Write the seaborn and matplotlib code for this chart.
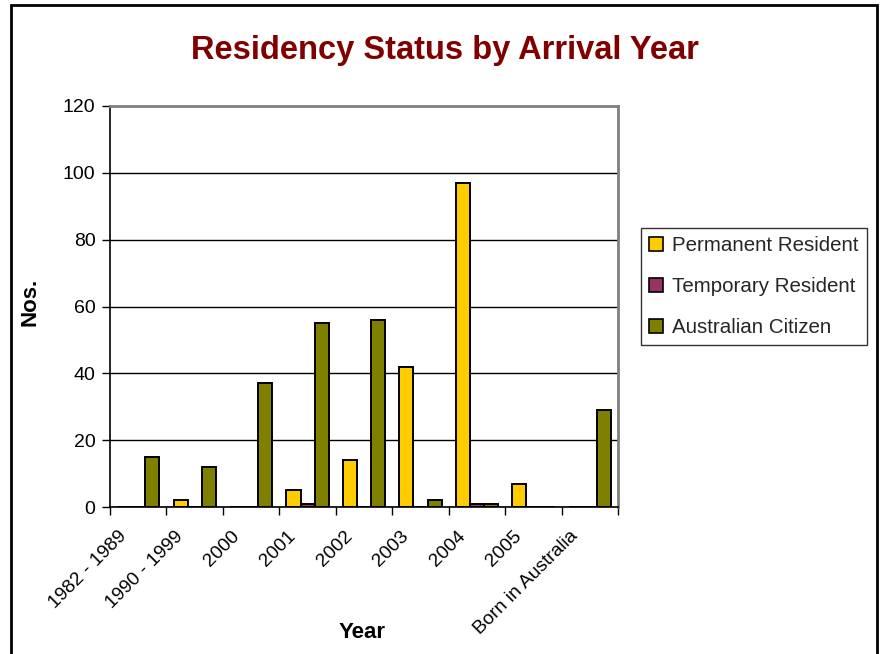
import matplotlib
matplotlib.use("Agg")
import matplotlib.pyplot as plt
import seaborn as sns
import pandas as pd
from matplotlib.patches import Rectangle

categories = ["1982 - 1989", "1990 - 1999", "2000", "2001", "2002",
              "2003", "2004", "2005", "Born in Australia"]
series_names = ["Permanent Resident", "Temporary Resident", "Australian Citizen"]
permanent = [0, 2, 0, 5, 14, 42, 97, 7, 0]
temporary = [0, 0, 0, 1, 0, 0, 1, 0, 0]
citizen = [15, 12, 37, 55, 56, 2, 1, 0, 29]
y_ticks = [0, 20, 40, 60, 80, 100, 120]

colors = ["#FFCC00", "#993366", "#808000"]

df = pd.DataFrame({
    "Year": categories * 3,
    "Status": [series_names[0]] * 9 + [series_names[1]] * 9 + [series_names[2]] * 9,
    "Nos.": permanent + temporary + citizen,
})

sns.set_theme(style="white")
plt.rcParams["font.family"] = ["Liberation Sans", "DejaVu Sans"]

fig = plt.figure(figsize=(8.8, 6.54), dpi=100)
ax = fig.add_axes([110 / 880, 1 - 507 / 654, (618 - 110) / 880, (507 - 106) / 654])

sns.barplot(data=df, x="Year", y="Nos.", hue="Status", order=categories,
            hue_order=series_names, palette=colors, width=0.75,
            edgecolor="black", linewidth=1.4, saturation=1, ax=ax, legend=True)

ax.set_ylim(0, 120)
ax.set_xlim(-0.5, len(categories) - 0.5)
ax.set_yticks(y_ticks)
ax.set_yticklabels([str(v) for v in y_ticks], fontsize=14, color="black")
ax.yaxis.grid(True, color="black", linewidth=1.0)
ax.set_axisbelow(True)

# tick marks on category boundaries, labels offset beside them
bounds = [i - 0.5 for i in range(len(categories) + 1)]
ax.set_xticks(bounds, minor=True)
ax.tick_params(axis="x", which="minor", length=6, width=1, color="black",
               direction="out", bottom=True)
ax.set_xticks([b + 0.14 for b in bounds[:-1]])
ax.set_xticklabels(categories, rotation=45, ha="right", rotation_mode="anchor",
                   fontsize=13.8, color="black")
ax.tick_params(axis="x", which="major", length=0, pad=15)
ax.tick_params(axis="y", length=6, width=1, color="black", direction="out",
               left=True, pad=4.5)

for side in ["left", "bottom"]:
    ax.spines[side].set_color("black")
    ax.spines[side].set_linewidth(1.2)
for side in ["top", "right"]:
    ax.spines[side].set_color("#808080")
    ax.spines[side].set_linewidth(2)

ax.set_xlabel("")
ax.set_ylabel("")
fig.text(362 / 880, 1 - 632 / 654, "Year", ha="center", va="center",
         fontsize=16, fontweight="bold", color="black")
fig.text(30 / 880, 1 - 302 / 654, "Nos.", ha="center", va="center",
         rotation=90, fontsize=16, fontweight="bold", color="black")

leg = ax.legend(loc="upper left", bbox_to_anchor=(641 / 880, 1 - 228 / 654),
                bbox_transform=fig.transFigure, fontsize=14.8, frameon=True,
                fancybox=False, handlelength=0.65, handleheight=0.65,
                handletextpad=0.45, labelspacing=1.07, borderpad=0.4,
                borderaxespad=0)
leg.get_frame().set_edgecolor("black")
leg.get_frame().set_linewidth(1.0)
for h in leg.legend_handles:
    h.set_edgecolor("black")
    h.set_linewidth(1.2)

fig.text(445 / 880, 1 - 50 / 654, "Residency Status by Arrival Year",
         ha="center", va="center", fontsize=23.5, fontweight="bold",
         color="#800000")

# outer chart border
fig.patches.append(Rectangle((11 / 880, -0.05), (877 - 11) / 880, 1.05 - 5 / 654,
                             transform=fig.transFigure, fill=False,
                             edgecolor="black", linewidth=2, zorder=10))

fig.savefig("out.png", dpi=100)
